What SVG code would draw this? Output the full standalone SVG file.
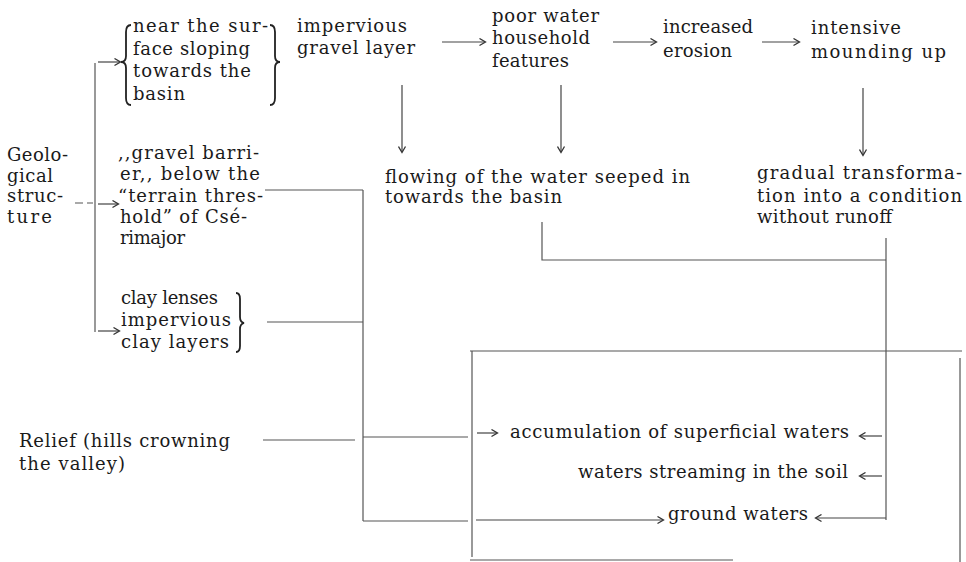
<svg xmlns="http://www.w3.org/2000/svg" width="966" height="562" viewBox="0 0 966 562">
<style>
  text { font-family: "DejaVu Serif", "Liberation Serif", serif; font-size: 18px; fill: #1a1a1a; }
  .ln { stroke: #555; stroke-width: 1.2; fill: none; }
  .ar { stroke: #444; stroke-width: 1.2; fill: none; marker-end: url(#ah); }
  .br { stroke: #222; stroke-width: 1.8; fill: none; }
</style>
<defs>
  <marker id="ah" markerWidth="9" markerHeight="9" refX="7" refY="4.5" orient="auto" markerUnits="userSpaceOnUse">
    <path d="M1.5,1 L7.5,4.5 L1.5,8" fill="none" stroke="#333" stroke-width="1.3"/>
  </marker>
</defs>
<rect width="966" height="562" fill="#fff"/>

<g id="connectors">
  <line class="ln" x1="75" y1="203" x2="93" y2="203" stroke-dasharray="8 4"/>
  <line class="ln" x1="95" y1="63" x2="95" y2="332"/>
  <line class="ar" x1="98" y1="62" x2="120" y2="62"/>
  <line class="ar" x1="98" y1="204" x2="118" y2="204"/>
  <line class="ar" x1="98" y1="331" x2="119" y2="331"/>
  <line class="ln" x1="265" y1="190" x2="363" y2="190"/>
  <line class="ln" x1="363" y1="190" x2="363" y2="521"/>
  <line class="ln" x1="267" y1="322" x2="363" y2="322"/>
  <line class="ln" x1="263" y1="440" x2="355" y2="440"/>
  <line class="ln" x1="363" y1="437" x2="468" y2="437"/>
  <line class="ln" x1="363" y1="521" x2="468" y2="521"/>
  <line class="ar" x1="477" y1="433" x2="497" y2="433"/>
  <line class="ar" x1="476" y1="520" x2="663" y2="520"/>
  <line class="ar" x1="882" y1="436" x2="860" y2="436"/>
  <line class="ar" x1="882" y1="476" x2="860" y2="476"/>
  <line class="ar" x1="886" y1="518" x2="816" y2="518"/>
  <line class="ln" x1="886" y1="238" x2="886" y2="520"/>
  <polyline class="ln" points="542,222 542,260 886,260"/>
  <line class="ar" x1="442" y1="42" x2="485" y2="42"/>
  <line class="ar" x1="613" y1="42" x2="656" y2="42"/>
  <line class="ar" x1="762" y1="42" x2="799" y2="42"/>
  <line class="ar" x1="402" y1="85" x2="402" y2="152"/>
  <line class="ar" x1="561" y1="85" x2="561" y2="152"/>
  <line class="ar" x1="863" y1="88" x2="863" y2="155"/>
</g>

<g id="frame">
  <line class="ln" x1="470" y1="351" x2="962" y2="351"/>
  <line class="ln" x1="472" y1="351" x2="472" y2="557"/>
  <line class="ln" x1="960" y1="358" x2="960" y2="562"/>
  <line class="ln" x1="470" y1="560" x2="733" y2="560"/>
</g>

<g id="n_geological">
  <text x="7" y="161" textLength="61">Geolo-</text>
  <text x="7" y="182" textLength="46">gical</text>
  <text x="7" y="202" textLength="56">struc-</text>
  <text x="7" y="223" textLength="45">ture</text>
</g>

<g id="n_surface">
  <path class="br" d="M131,25 Q126,25 126,32 L126,56 Q126,62 121,62 Q126,62 126,68 L126,98 Q126,105 131,105"/>
  <text x="133" y="32" textLength="135">near the sur-</text>
  <text x="133" y="55" textLength="117">face sloping</text>
  <text x="133" y="77" textLength="118">towards the</text>
  <text x="133" y="100" textLength="52">basin</text>
  <path class="br" d="M270,25 Q275,25 275,32 L275,56 Q275,62 280,62 Q275,62 275,68 L275,98 Q275,105 270,105"/>
</g>

<g id="n_gravel_barrier">
  <text x="118" y="159" textLength="141">,,gravel barri-</text>
  <text x="120" y="180" textLength="140">er,, below the</text>
  <text x="118" y="202" textLength="145">“terrain thres-</text>
  <text x="120" y="223" textLength="127">hold” of Csé-</text>
  <text x="120" y="244" textLength="65">rimajor</text>
</g>

<g id="n_clay">
  <text x="121" y="304" textLength="97">clay lenses</text>
  <text x="121" y="326" textLength="110">impervious</text>
  <text x="121" y="348" textLength="108">clay layers</text>
  <path class="br" d="M236,293 Q240,293 240,299 L240,317 Q240,322 244,323 Q240,324 240,329 L240,346 Q240,352 236,352"/>
</g>

<g id="n_relief">
  <text x="19" y="447" textLength="211">Relief (hills crowning</text>
  <text x="19" y="470" textLength="106">the valley)</text>
</g>

<g id="n_impervious_gravel">
  <text x="297" y="32" textLength="110">impervious</text>
  <text x="297" y="54" textLength="118">gravel layer</text>
</g>

<g id="n_poor_water">
  <text x="492" y="22" textLength="107">poor water</text>
  <text x="492" y="44" textLength="98">household</text>
  <text x="492" y="67" textLength="77">features</text>
</g>

<g id="n_erosion">
  <text x="663" y="33" textLength="90">increased</text>
  <text x="663" y="57" textLength="69">erosion</text>
</g>

<g id="n_mounding">
  <text x="811" y="34" textLength="90">intensive</text>
  <text x="811" y="58" textLength="135">mounding up</text>
</g>

<g id="n_flowing">
  <text x="385" y="183" textLength="305">flowing of the water seeped in</text>
  <text x="385" y="203" textLength="177">towards the basin</text>
</g>

<g id="n_gradual">
  <text x="757" y="179" textLength="205">gradual transforma-</text>
  <text x="757" y="202" textLength="205">tion into a condition</text>
  <text x="757" y="223" textLength="135">without runoff</text>
</g>

<g id="n_accumulation">
  <text x="510" y="438" textLength="339">accumulation of superficial waters</text>
</g>
<g id="n_streaming">
  <text x="578" y="478" textLength="270">waters streaming in the soil</text>
</g>
<g id="n_ground">
  <text x="668" y="520" textLength="140">ground waters</text>
</g>
</svg>
